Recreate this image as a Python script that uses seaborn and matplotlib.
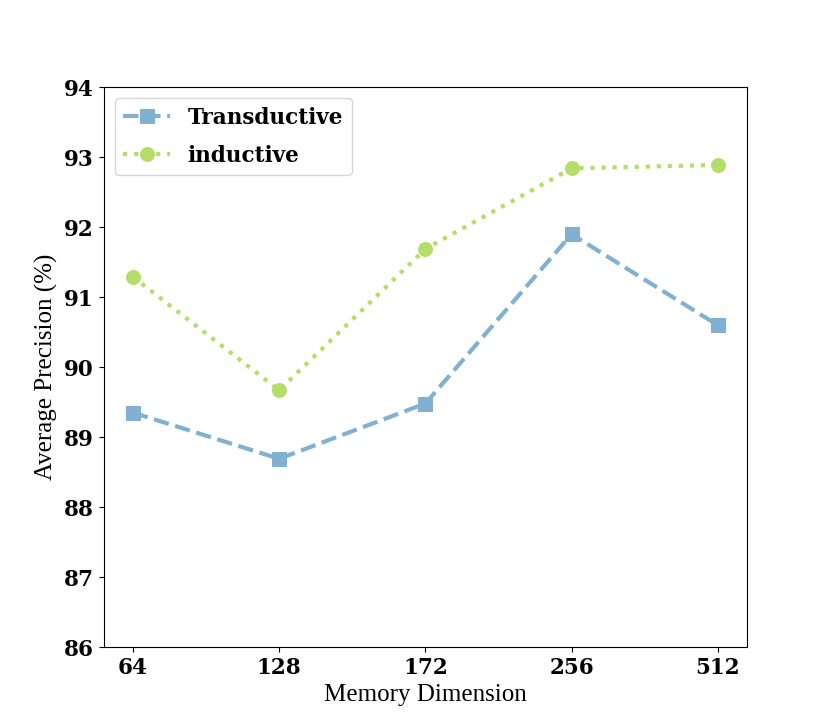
import matplotlib
matplotlib.use("Agg")
import matplotlib.pyplot as plt
import seaborn as sns
import pandas as pd

dims = ["64", "128", "172", "256", "512"]
transductive = [89.35, 88.69, 89.48, 91.90, 90.60]
inductive = [91.29, 89.67, 91.69, 92.84, 92.89]
yticks = [86, 87, 88, 89, 90, 91, 92, 93, 94]

pal = sns.color_palette("Set3")
blue = pal[4]
green = pal[6]

df = pd.DataFrame({
    "dim": dims * 2,
    "ap": transductive + inductive,
    "setting": ["Transductive"] * len(dims) + ["inductive"] * len(dims),
})

fig, ax = plt.subplots(figsize=(8.3, 7.27), dpi=100)

sns.lineplot(data=df[df.setting == "Transductive"], x="dim", y="ap", ax=ax,
             color=blue, linestyle="--", marker="s", markersize=9.5, linewidth=3,
             markeredgecolor=blue, label="Transductive", sort=False)
sns.lineplot(data=df[df.setting == "inductive"], x="dim", y="ap", ax=ax,
             color=green, linestyle=":", marker="o", markersize=10, linewidth=3,
             markeredgecolor=green, label="inductive", sort=False)

ax.set_ylim(86, 94)
ax.set_yticks(yticks)
ax.set_yticklabels([str(t) for t in yticks])
ax.margins(x=0.05)

for lab in ax.get_xticklabels() + ax.get_yticklabels():
    lab.set_fontfamily("DejaVu Serif")
    lab.set_fontweight("bold")
    lab.set_fontsize(15.5)

ax.set_xlabel("Memory Dimension", fontfamily="Liberation Serif", fontsize=18)
ax.set_ylabel("Average Precision (%)", fontfamily="Liberation Serif", fontsize=18)

leg = ax.legend(loc="upper left", prop=dict(family="DejaVu Serif", weight="bold", size=15.5),
                handlelength=2.2, labelspacing=0.75)

fig.subplots_adjust(left=0.125, right=0.9, top=0.88, bottom=0.11)
fig.savefig("out.png", dpi=100)
